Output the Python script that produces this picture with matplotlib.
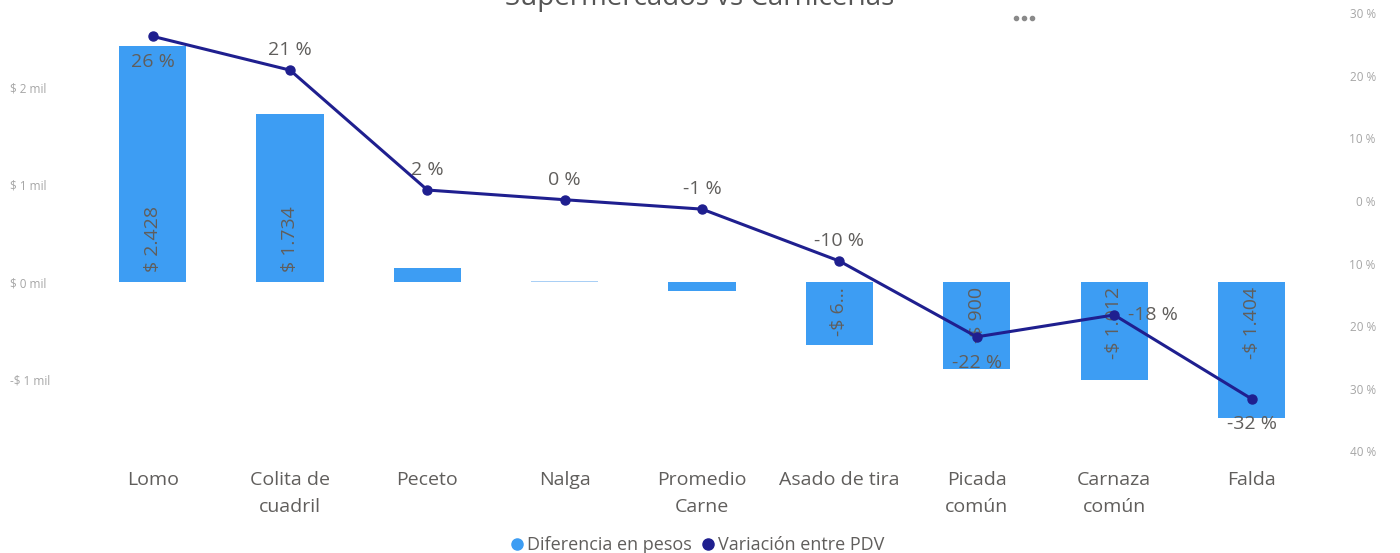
import matplotlib
matplotlib.use("Agg")
import matplotlib.pyplot as plt
from matplotlib.lines import Line2D

plt.rcParams['font.family'] = ['Open Sans', 'DejaVu Sans']

categories = ["Lomo", "Colita de\ncuadril", "Peceto", "Nalga", "Promedio\nCarne",
              "Asado de tira", "Picada\ncomún", "Carnaza\ncomún", "Falda"]
diff_pesos = [2428, 1734, 144, 12, -93, -650, -900, -1012, -1404]
bar_labels = ["$ 2.428", "$ 1.734", "", "", "", "-$ 6...", "-$ 900", "-$ 1.012", "-$ 1.404"]
variacion = [26.3, 20.9, 1.75, 0.2, -1.3, -9.6, -21.7, -18.2, -31.6]
var_labels = ["26 %", "21 %", "2 %", "0 %", "-1 %", "-10 %", "-22 %", "-18 %", "-32 %"]
var_label_pos = ["below", "above", "above", "above", "above", "above", "below", "right", "below"]
left_ticks = [-1000, 0, 1000, 2000]
left_ticklabels = ["-$ 1 mil", "$ 0 mil", "$ 1 mil", "$ 2 mil"]
right_ticks = [-40, -30, -20, -10, 0, 10, 20, 30]
right_ticklabels = ["40 %", "30 %", "20 %", "10 %", "0 %", "10 %", "20 %", "30 %"]

bar_color = "#3D9DF3"
line_color = "#1F1F8F"
text_gray = "#605E5C"
axis_gray = "#A6A6A6"

fig = plt.figure(figsize=(14, 5.53), dpi=100)
ax = fig.add_axes([0.06, 0.1837, 0.883, 0.7925])
x = list(range(len(categories)))

colors = [bar_color if i != 3 else "#A9CFF5" for i in x]
ax.bar(x, diff_pesos, width=0.49, color=colors, zorder=2)
ax.set_xlim(-0.5, len(categories) - 0.5)
ax.set_ylim(-1746, 2771)
ax.set_yticks(left_ticks)
ax.set_yticklabels(left_ticklabels, fontsize=8.5, color=axis_gray)
ax.set_xticks(x)
ax.set_xticklabels(categories, fontsize=14, color=text_gray, linespacing=1.65, va="top")
ax.tick_params(axis="both", length=0)
ax.tick_params(axis="x", pad=14)
ax.tick_params(axis="y", pad=53)
for lbl in ax.get_yticklabels():
    lbl.set_horizontalalignment("left")
for s in ax.spines.values():
    s.set_visible(False)

for i, (v, lab) in enumerate(zip(diff_pesos, bar_labels)):
    if not lab:
        continue
    if v > 0:
        ax.text(i, 100, lab, rotation=90, ha="center", va="bottom", fontsize=14,
                color=text_gray, zorder=3)
    else:
        ax.text(i, -50, lab, rotation=90, ha="center", va="top", fontsize=14,
                color=text_gray, zorder=3)

ax2 = ax.twinx()
ax2.set_ylim(-40, 30)
ax2.plot(x, variacion, color=line_color, lw=2.2, marker="o", ms=6.5, zorder=5)
ax2.set_yticks(right_ticks)
ax2.set_yticklabels(right_ticklabels, fontsize=8.5, color=axis_gray)
for lbl in ax2.get_yticklabels():
    lbl.set_horizontalalignment("right")
ax2.tick_params(axis="y", length=0, pad=40)
for s in ax2.spines.values():
    s.set_visible(False)

for i, (v, lab, pos) in enumerate(zip(variacion, var_labels, var_label_pos)):
    if pos == "above":
        ax2.annotate(lab, (i, v), xytext=(0, 8), textcoords="offset points",
                     ha="center", va="bottom", fontsize=14, color=text_gray)
    elif pos == "below":
        ax2.annotate(lab, (i, v), xytext=(0, -12), textcoords="offset points",
                     ha="center", va="top", fontsize=14, color=text_gray)
    else:
        ax2.annotate(lab, (i, v), xytext=(10, 0), textcoords="offset points",
                     ha="left", va="center", fontsize=14, color=text_gray)

fig.text(0.5, 1 - 5 / 553, "Supermercados vs Carnicerías", ha="center", va="baseline",
         fontsize=20, color="#555555")
for k in (-1, 0, 1):
    fig.add_artist(Line2D([(1024 + 8 * k) / 1400], [1 - 18 / 553], marker="o", ms=3,
                          color="#8a8a8a", ls="", transform=fig.transFigure))

handles = [Line2D([], [], marker="o", ls="", color=bar_color, ms=8),
           Line2D([], [], marker="o", ls="", color=line_color, ms=8)]
fig.legend(handles, ["Diferencia en pesos", "Variación entre PDV"], loc="center",
           bbox_to_anchor=(0.497, 1 - 545 / 553), ncol=2, frameon=False, fontsize=13,
           handletextpad=0.05, columnspacing=0.4, labelcolor=text_gray, handlelength=1)

fig.savefig("out.png", dpi=100)
